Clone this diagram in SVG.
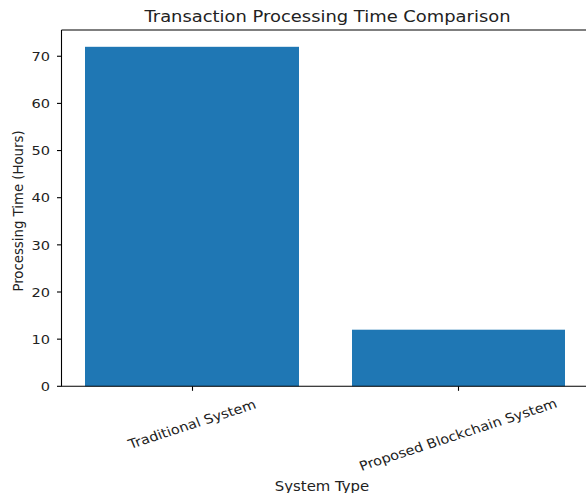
<svg xmlns="http://www.w3.org/2000/svg" width="586" height="493" viewBox="0 0 586 493">
<style>
text{font-family:"DejaVu Sans","Liberation Sans",sans-serif;fill:#222;}
.tick{font-size:13px;text-anchor:end;dominant-baseline:central;}
.xt{font-size:13px;text-anchor:middle;dominant-baseline:central;}
.lab{font-size:13.3px;text-anchor:middle;}
.spine{stroke:#000;stroke-width:1.1;fill:none;}
.tk{stroke:#000;stroke-width:1.1;}
.bar{fill:#1f77b4;}
</style>
<rect width="586" height="493" fill="#fff"/>
<text transform="translate(327.5,22) scale(1.12,1)" style="font-size:16px;text-anchor:middle">Transaction Processing Time Comparison</text>
<g id="bars">
<rect id="bar-traditional" class="bar" x="85" y="46.8" width="214" height="339.5"/>
<rect id="bar-blockchain" class="bar" x="352" y="329.7" width="213" height="56.6"/>
</g>
<g id="axes">
<path class="spine" d="M61.5 30 V386.3 H586 M61.5 30 H586"/>
<g class="tk">
<line x1="57" x2="61.5" y1="386.3" y2="386.3"/>
<line x1="57" x2="61.5" y1="339.15" y2="339.15"/>
<line x1="57" x2="61.5" y1="292" y2="292"/>
<line x1="57" x2="61.5" y1="244.85" y2="244.85"/>
<line x1="57" x2="61.5" y1="197.7" y2="197.7"/>
<line x1="57" x2="61.5" y1="150.55" y2="150.55"/>
<line x1="57" x2="61.5" y1="103.4" y2="103.4"/>
<line x1="57" x2="61.5" y1="56.25" y2="56.25"/>
<line x1="192.5" x2="192.5" y1="386.3" y2="390.8"/>
<line x1="458.5" x2="458.5" y1="386.3" y2="390.8"/>
</g>
<text class="tick" transform="translate(50,386.3) scale(1.12,1)">0</text>
<text class="tick" transform="translate(50,339.15) scale(1.12,1)">10</text>
<text class="tick" transform="translate(50,292) scale(1.12,1)">20</text>
<text class="tick" transform="translate(50,244.85) scale(1.12,1)">30</text>
<text class="tick" transform="translate(50,197.7) scale(1.12,1)">40</text>
<text class="tick" transform="translate(50,150.55) scale(1.12,1)">50</text>
<text class="tick" transform="translate(50,103.4) scale(1.12,1)">60</text>
<text class="tick" transform="translate(50,56.25) scale(1.12,1)">70</text>
<text class="xt" transform="translate(192,424) scale(1.12,1) rotate(-20)">Traditional System</text>
<text class="xt" transform="translate(458,434.5) scale(1.12,1) rotate(-20)">Proposed Blockchain System</text>
<text class="lab" transform="translate(322,490.5) scale(1.12,1)">System Type</text>
<text class="lab" transform="translate(22.5,211) scale(1.12,1) rotate(-90)">Processing Time (Hours)</text>
</g>
</svg>
